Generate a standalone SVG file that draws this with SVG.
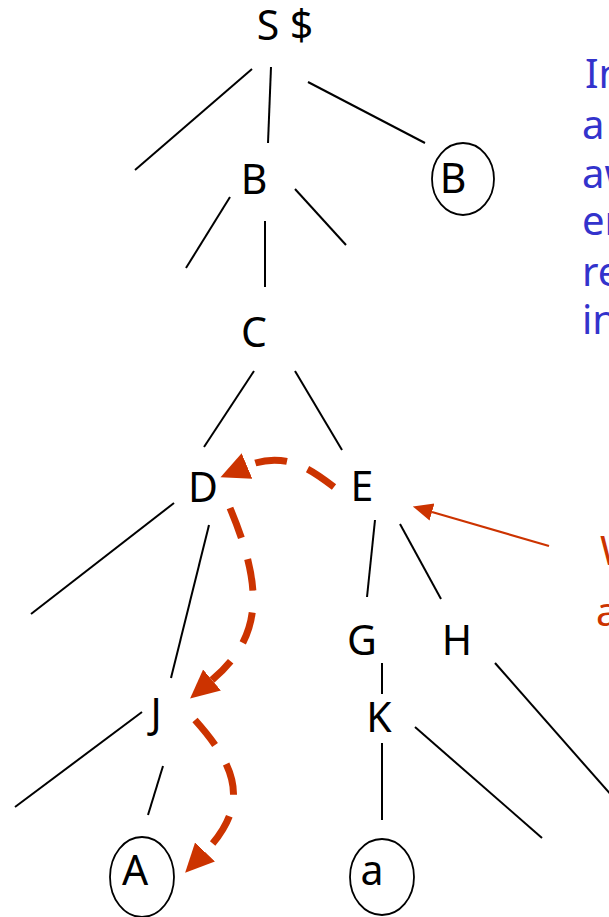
<svg xmlns="http://www.w3.org/2000/svg" width="609" height="917" viewBox="0 0 609 917">
  <style>
    .lbl { font-family: "Noto Sans", "Open Sans", sans-serif; font-size: 41px; fill: #000; text-anchor: middle; }
    .edge { stroke: #000; stroke-width: 2; fill: none; }
    .ring { stroke: #000; stroke-width: 1.8; fill: none; }
    .note { font-family: "Noto Sans", "Open Sans", sans-serif; font-size: 40px; }
    .blue { fill: #3333CC; }
    .orange { fill: #CC3300; }
    .walk { stroke: #CC3300; stroke-width: 7; fill: none; stroke-dasharray: 32 22; marker-end: url(#bigHead); }
    .pointer { stroke: #CC3300; stroke-width: 2.2; fill: none; marker-end: url(#smallHead); }
  </style>
  <defs>
    <marker id="bigHead" markerUnits="userSpaceOnUse" markerWidth="30" markerHeight="30" viewBox="0 -12 24 24" refX="0" refY="0" orient="auto">
      <polygon points="0,-11 23,0 0,11" fill="#CC3300"/>
    </marker>
    <marker id="smallHead" markerUnits="userSpaceOnUse" markerWidth="20" markerHeight="20" viewBox="0 -8 16 16" refX="0" refY="0" orient="auto">
      <polygon points="0,-7 16,0 0,7" fill="#CC3300"/>
    </marker>
  </defs>

  <!-- tree edges -->
  <g id="connectors">
    <line class="edge" x1="252" y1="69" x2="135" y2="170"/>
    <line class="edge" x1="271" y1="67" x2="268" y2="143"/>
    <line class="edge" x1="308" y1="82" x2="425" y2="143"/>
    <line class="edge" x1="230" y1="197" x2="186" y2="268"/>
    <line class="edge" x1="265" y1="221" x2="265" y2="287"/>
    <line class="edge" x1="295" y1="189" x2="346" y2="245"/>
    <line class="edge" x1="254" y1="371" x2="204" y2="447"/>
    <line class="edge" x1="295" y1="371" x2="342" y2="450"/>
    <line class="edge" x1="174" y1="503" x2="31" y2="614"/>
    <line class="edge" x1="209" y1="525" x2="171" y2="678"/>
    <line class="edge" x1="375" y1="520" x2="367" y2="597"/>
    <line class="edge" x1="400" y1="524" x2="441" y2="599"/>
    <line class="edge" x1="382" y1="663" x2="382" y2="694"/>
    <line class="edge" x1="382" y1="743" x2="382" y2="820"/>
    <line class="edge" x1="415" y1="727" x2="542" y2="838"/>
    <line class="edge" x1="495" y1="663" x2="612" y2="796"/>
    <line class="edge" x1="142" y1="712" x2="15" y2="807"/>
    <line class="edge" x1="163" y1="766" x2="148" y2="815"/>

    <!-- traversal arrows -->
    <path class="walk" d="M 334,487 C 312,470 285,450 247,466"/>
    <path class="walk" d="M 230,508 C 262,585 265,635 212,680"/>
    <path class="walk" d="M 195,720 C 238,768 250,805 205,852"/>
    <line class="pointer" x1="549" y1="546" x2="432" y2="512"/>
  </g>

  <!-- nodes -->
  <g id="node-S"><text class="lbl" x="285" y="40">S $</text></g>
  <g id="node-B"><text class="lbl" x="254" y="194">B</text></g>
  <g id="node-B2">
    <ellipse class="ring" cx="463" cy="179" rx="31" ry="36"/>
    <text class="lbl" x="453" y="193">B</text>
  </g>
  <g id="node-C"><text class="lbl" x="254" y="347">C</text></g>
  <g id="node-D"><text class="lbl" x="203" y="502">D</text></g>
  <g id="node-E"><text class="lbl" x="362" y="501">E</text></g>
  <g id="node-G"><text class="lbl" x="362" y="655">G</text></g>
  <g id="node-H"><text class="lbl" x="457" y="655">H</text></g>
  <g id="node-J"><text class="lbl" x="156" y="728">J</text></g>
  <g id="node-K"><text class="lbl" x="379" y="732">K</text></g>
  <g id="node-A">
    <ellipse class="ring" cx="142" cy="877" rx="32" ry="40"/>
    <text class="lbl" x="135" y="885">A</text>
  </g>
  <g id="node-a">
    <ellipse class="ring" cx="382" cy="877" rx="32" ry="38"/>
    <text class="lbl" x="372" y="885">a</text>
  </g>

  <!-- side notes running off the right edge -->
  <g id="note-blue" class="note blue">
    <text x="585" y="88">In</text>
    <text x="582" y="139">a</text>
    <text x="582" y="188">aw</text>
    <text x="582" y="235">en</text>
    <text x="582" y="286">re</text>
    <text x="582" y="334">in</text>
  </g>
  <g id="note-orange" class="note orange">
    <text x="600" y="565">W</text>
    <text x="596" y="626">a</text>
  </g>
</svg>
